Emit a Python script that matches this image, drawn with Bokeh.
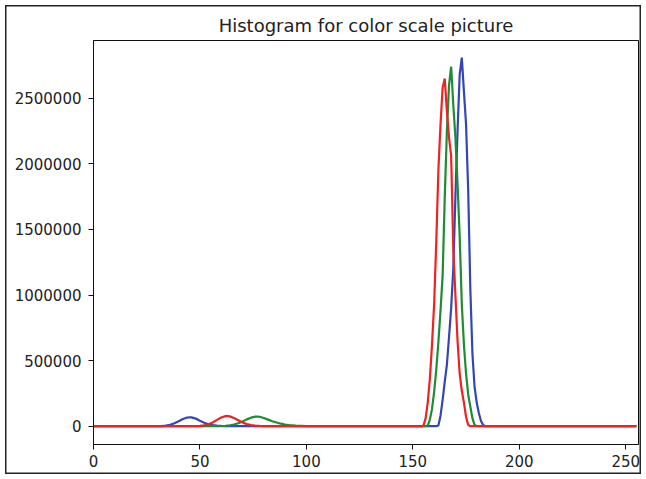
from bokeh.plotting import figure
from bokeh.models import Range1d, FixedTicker, NumeralTickFormatter
from bokeh.embed import file_html
from bokeh.resources import INLINE

title_text = "Histogram for color scale picture"
x_ticks = [0, 50, 100, 150, 200, 250]
y_ticks = [0, 500000, 1000000, 1500000, 2000000, 2500000]

# Blue channel: pixel intensity -> count
blue_x = [0, 30, 32, 34, 36, 38, 40, 42, 44, 45, 46, 48, 50, 52, 54, 56, 58, 60, 62, 65,
          100, 150, 161, 162, 163, 164, 165, 166, 167, 168, 169, 170, 171, 172, 173, 174,
          175, 176, 177, 178, 179, 180, 181, 182, 183, 184, 200, 255]
blue_y = [0, 0, 1000, 4000, 10000, 22000, 38000, 55000, 66000, 68000, 67000, 58000, 42000,
          27000, 15000, 8000, 4000, 2000, 1000, 0,
          0, 0, 0, 5000, 80000, 200000, 340000, 470000, 680000, 900000, 1200000, 1750000,
          2250000, 2680000, 2810000, 2550000, 2300000, 1800000, 1050000, 550000, 300000,
          180000, 100000, 40000, 10000, 0, 0, 0]

# Green channel
green_x = [0, 58, 60, 62, 64, 66, 68, 70, 72, 74, 76, 77, 78, 80, 82, 84, 86, 88, 90, 92,
           95, 100, 105, 150, 156, 157, 158, 159, 160, 161, 162, 163, 164, 165, 166, 167,
           168, 169, 170, 171, 172, 173, 174, 175, 176, 177, 178, 179, 180, 200, 255]
green_y = [0, 0, 1000, 3000, 7000, 13000, 22000, 36000, 52000, 65000, 73000, 74000, 72000,
           62000, 50000, 38000, 28000, 19000, 13000, 8000, 4000, 1000, 0, 0,
           0, 5000, 50000, 130000, 260000, 430000, 640000, 880000, 1150000, 1750000,
           2250000, 2600000, 2740000, 2450000, 2200000, 1850000, 1450000, 930000, 620000,
           400000, 240000, 150000, 60000, 10000, 0, 0, 0]

# Red channel
red_x = [0, 48, 50, 52, 54, 56, 58, 60, 62, 63, 64, 66, 68, 70, 72, 74, 76, 78, 80, 84,
         150, 154, 155, 156, 157, 158, 159, 160, 161, 162, 163, 164, 165, 166, 167, 168,
         169, 170, 171, 172, 173, 174, 175, 176, 177, 200, 255]
red_y = [0, 0, 2000, 6000, 14000, 28000, 48000, 66000, 77000, 78000, 75000, 62000, 45000,
         28000, 16000, 8000, 4000, 2000, 500, 0,
         0, 0, 5000, 60000, 180000, 360000, 620000, 930000, 1400000, 1950000, 2300000,
         2580000, 2650000, 2400000, 2200000, 2060000, 1350000, 1000000, 650000, 400000,
         270000, 180000, 70000, 10000, 0, 0, 0]

p = figure(width=646, height=479, output_backend="svg", toolbar_location=None,
           x_range=Range1d(0, 256), y_range=Range1d(-139500, 2940000),
           min_border_left=93, min_border_right=8, min_border_top=40, min_border_bottom=35,
           styles={"background-color": "white",
                   "box-shadow": "inset 0 0 0 5px white, inset 0 0 0 6.5px #222222"})

p.title.text = title_text
p.title.align = "center"
p.title.text_font = "DejaVu Sans"
p.title.text_font_size = "18px"
p.title.text_font_style = "normal"
p.title.text_color = "#222222"
p.title.standoff = 9

p.background_fill_color = "white"
p.border_fill_alpha = 0
p.outline_line_color = "#111111"
p.outline_line_width = 1
p.xgrid.visible = False
p.ygrid.visible = False

for ax in (p.xaxis[0], p.yaxis[0]):
    ax.major_label_text_font = "DejaVu Sans"
    ax.major_label_text_font_size = "15px"
    ax.major_label_text_color = "#222222"
    ax.axis_line_color = "#111111"
    ax.major_tick_line_color = "#111111"
    ax.major_tick_out = 5
    ax.major_tick_in = 0
    ax.minor_tick_line_color = None

p.xaxis[0].ticker = FixedTicker(ticks=x_ticks)
p.yaxis[0].ticker = FixedTicker(ticks=y_ticks)
p.yaxis[0].formatter = NumeralTickFormatter(format="0")
p.xaxis[0].major_label_standoff = 5
p.yaxis[0].major_label_standoff = 7

p.line(blue_x, blue_y, line_color="#3346b4", line_width=2.2)
p.line(green_x, green_y, line_color="#1e8c32", line_width=2.2)
p.line(red_x, red_y, line_color="#ee2222", line_width=2.2)

open("out.html", "w").write(file_html(p, INLINE))
